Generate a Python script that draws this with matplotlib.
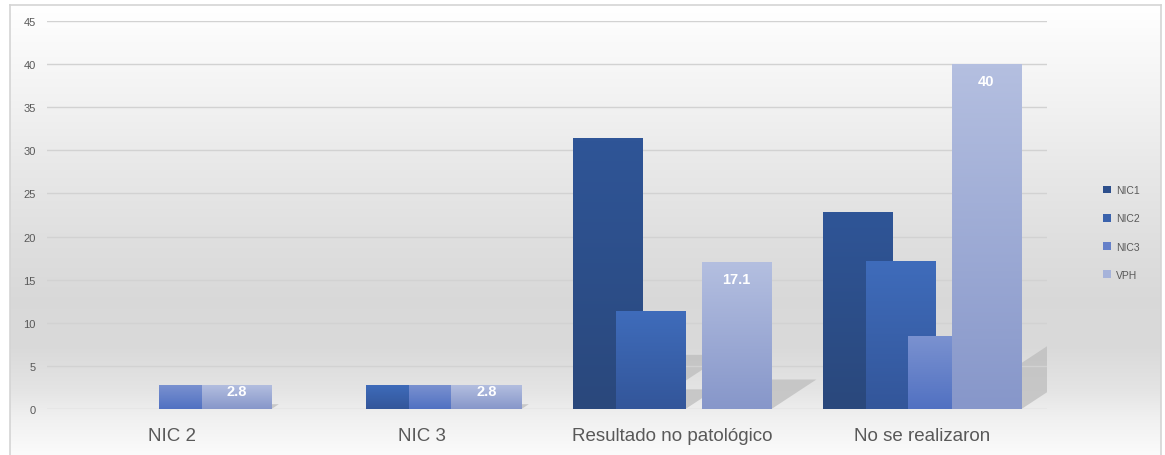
import numpy as np
import matplotlib
matplotlib.use("Agg")
import matplotlib.pyplot as plt
from matplotlib.colors import LinearSegmentedColormap
from matplotlib.patches import Polygon, Patch

# data
categories = ["NIC 2", "NIC 3", "Resultado no patológico", "No se realizaron"]
series = ["NIC1", "NIC2", "NIC3", "VPH"]
nic1 = [0, 0, 31.4, 22.9]
nic2 = [0, 2.8, 11.4, 17.2]
nic3 = [2.8, 2.8, 0, 8.5]
vph = [2.8, 2.8, 17.1, 40]
y_ticks = list(range(0, 50, 5))

values = [nic1, nic2, nic3, vph]
# (top colour, bottom colour) of the vertical gradient in each series
grad_colors = [
    ("#2f5597", "#2a487c"),
    ("#3f6cbb", "#33569a"),
    ("#7b92d0", "#5171c2"),
    ("#b4bfe0", "#8797ca"),
]
legend_colors = ["#2d4f8c", "#3a62ac", "#6580c9", "#a6b3da"]

plt.rcParams["font.family"] = ["Liberation Sans", "DejaVu Sans"]

W, H = 1165, 456
fig = plt.figure(figsize=(W / 100, H / 100), dpi=100)

# chart area background (grey gradient inside a thin frame)
bg = fig.add_axes([10 / W, 0, (1161 - 10) / W, (H - 6) / H])
bg.set_axis_off()
px = np.arange(6, H)
stops_y = [6, 100, 170, 250, 300, 350, 390, 420, 456]
stops_v = [1.0, 0.95, 0.91, 0.87, 0.85, 0.855, 0.895, 0.945, 0.985]
shade = np.interp(px, stops_y, stops_v)
rgb = np.repeat(shade[:, None, None], 3, axis=2)
bg.imshow(rgb, extent=[0, 1, 0, 1], aspect="auto", interpolation="nearest")
frame_kw = dict(color="#d4d4d4", lw=1.2, transform=bg.transAxes, clip_on=False)
bg.plot([0, 0], [0, 1], **frame_kw)
bg.plot([0, 1], [1, 1], **frame_kw)
bg.plot([1, 1], [0, 1], **frame_kw)
bg.set_xlim(0, 1)
bg.set_ylim(0, 1)

ax = fig.add_axes([47 / W, 1 - 410 / H, 1000 / W, (410 - 22) / H])
ax.set_facecolor("none")

x = np.arange(len(categories))
width = 0.28
step = 0.172
offsets = (np.arange(len(series)) - 1.5) * step

for yt in y_ticks:
    ax.axhline(yt, color="#d2d2d2", lw=1, zorder=2.5)

grad = np.linspace(0, 1, 64)[:, None]
for i, (name, vals) in enumerate(zip(series, values)):
    top, bottom = grad_colors[i]
    cmap = LinearSegmentedColormap.from_list(name, [top, bottom])
    bars = ax.bar(x + offsets[i], vals, width, color=bottom, linewidth=0, zorder=3 + i)
    for p in bars.patches:
        h = p.get_height()
        if h <= 0:
            continue
        x0 = p.get_x()
        x1 = x0 + p.get_width()
        # perspective shadow cast behind the bar
        t, dx = 0.2 * h, 0.0105 * h
        sh = Polygon([(x0, 0), (x1, 0), (x1 + dx, t), (x0 + dx, t)],
                     closed=True, facecolor="#bdbdbd", edgecolor="none",
                     alpha=0.75, zorder=2)
        ax.add_patch(sh)
        im = ax.imshow(grad, cmap=cmap, extent=[x0, x1, 0, h], aspect="auto",
                       interpolation="bilinear", zorder=3 + i)
        im.set_clip_path(p)

# data labels on VPH only
for xi, v in zip(x + offsets[3], vph):
    off = -12.5 if v > 5 else -4.5
    ax.annotate(f"{v:g}", (xi, v), xytext=(0, off), textcoords="offset points",
                ha="center", va="center", color="white", fontweight="bold",
                fontsize=10.5, zorder=10)

ax.set_xlim(-0.5, len(categories) - 0.5)
ax.set_ylim(0, 45)
ax.set_yticks(y_ticks)
ax.set_xticks(x, categories)
ax.tick_params(axis="y", length=0, labelsize=8, labelcolor="#595959", pad=8)
ax.tick_params(axis="x", length=0, labelsize=13.5, labelcolor="#595959", pad=13)
for s in ax.spines.values():
    s.set_visible(False)

handles = [Patch(facecolor=c, edgecolor="none") for c in legend_colors]
fig.legend(handles, series, loc="upper left", bbox_to_anchor=(1098 / W, 1 - 181 / H),
           frameon=False, fontsize=7.5, handlelength=0.75, handleheight=0.75,
           handletextpad=0.5, labelspacing=1.75, borderpad=0, labelcolor="#595959")

fig.savefig("out.png", dpi=100)
